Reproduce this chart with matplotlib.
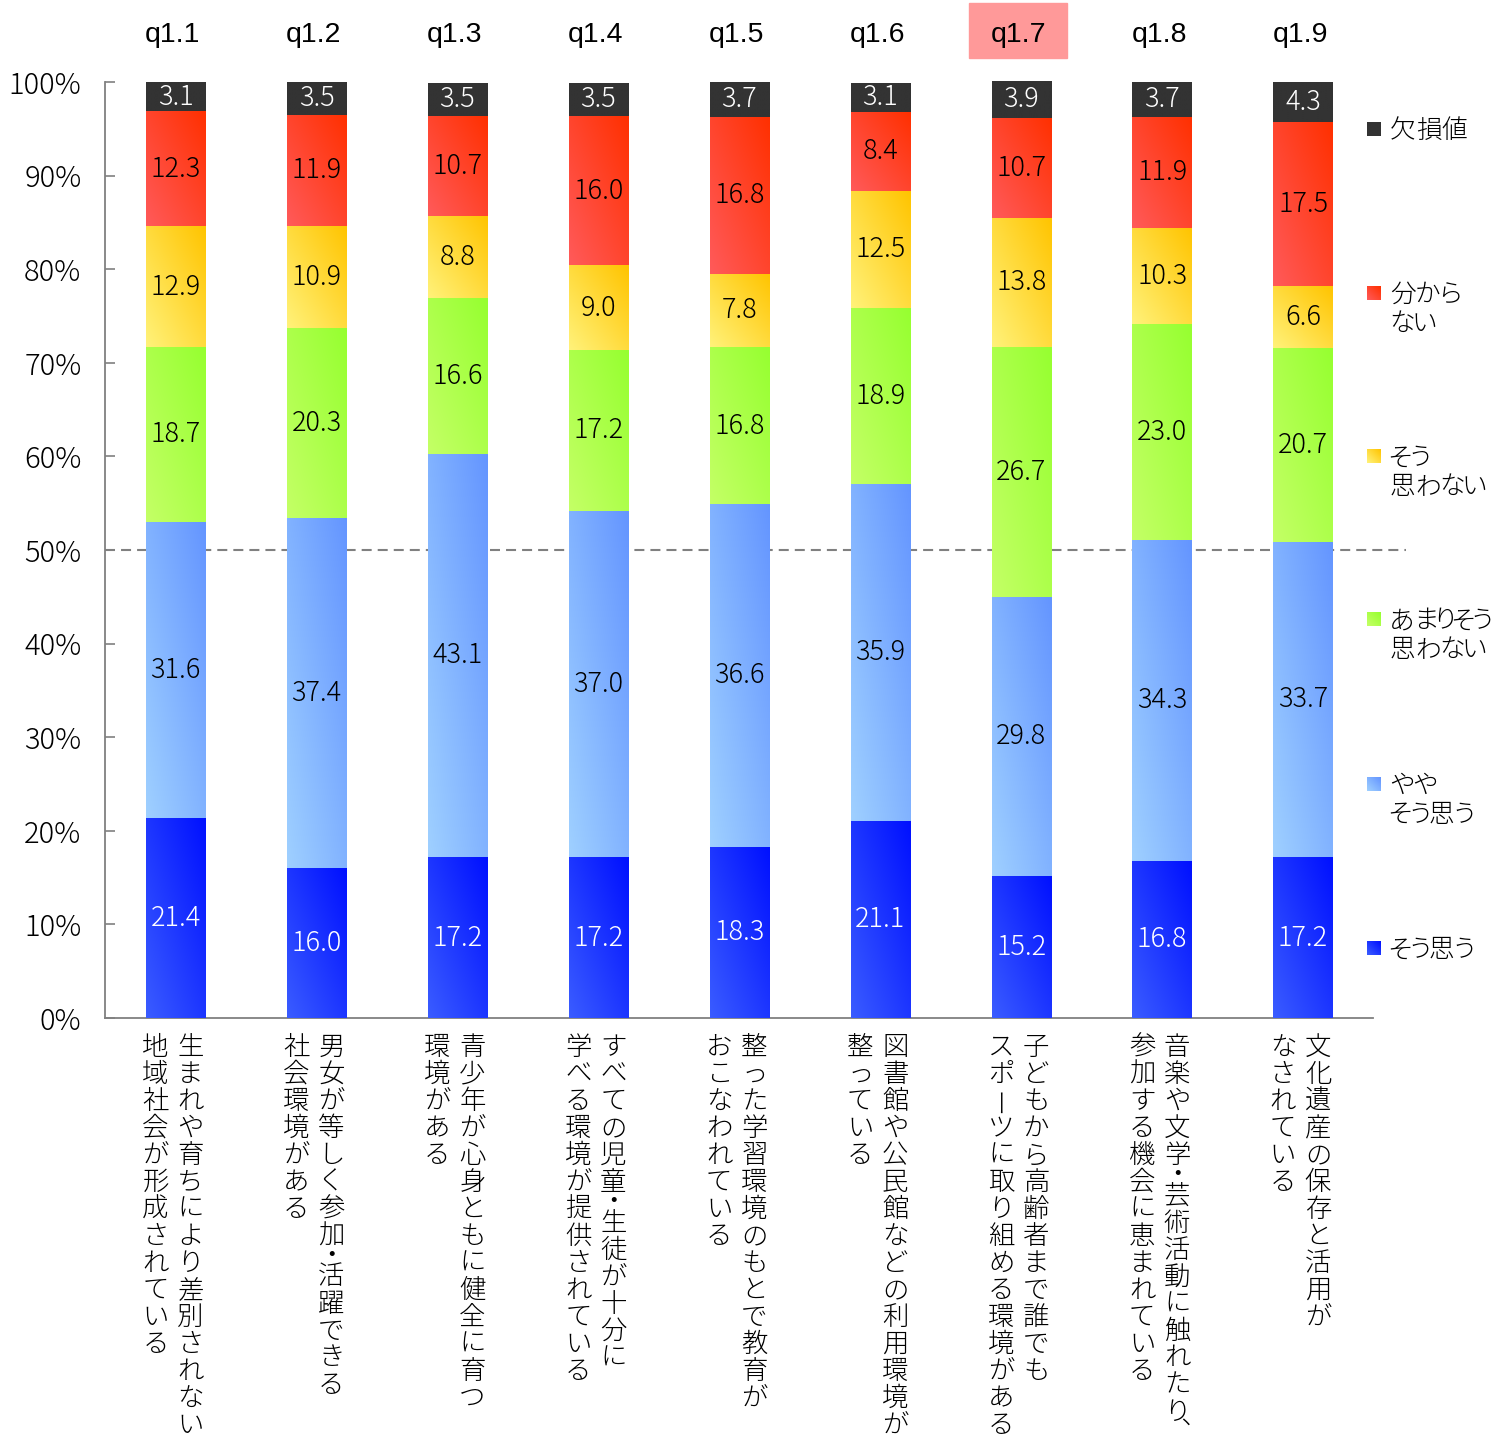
import numpy as np
import matplotlib
matplotlib.use("Agg")
import matplotlib.pyplot as plt
from matplotlib.colors import to_rgb

plt.rcParams["font.family"] = ["Noto Sans CJK JP", "DejaVu Sans"]

# ---- data ---------------------------------------------------------------
codes = ["q1.1", "q1.2", "q1.3", "q1.4", "q1.5", "q1.6", "q1.7", "q1.8", "q1.9"]
highlight_code = "q1.7"

questions = [
    ["生まれや育ちにより差別されない", "地域社会が形成されている"],
    ["男女が等しく参加・活躍できる", "社会環境がある"],
    ["青少年が心身ともに健全に育つ", "環境がある"],
    ["すべての児童・生徒が十分に", "学べる環境が提供されている"],
    ["整った学習環境のもとで教育が", "おこなわれている"],
    ["図書館や公民館などの利用環境が", "整っている"],
    ["子どもから高齢者まで誰でも", "スポーツに取り組める環境がある"],
    ["音楽や文学・芸術活動に触れたり、", "参加する機会に恵まれている"],
    ["文化遺産の保存と活用が", "なされている"],
]

sou_omou      = [21.4, 16.0, 17.2, 17.2, 18.3, 21.1, 15.2, 16.8, 17.2]
yaya_sou      = [31.6, 37.4, 43.1, 37.0, 36.6, 35.9, 29.8, 34.3, 33.7]
amari_sou     = [18.7, 20.3, 16.6, 17.2, 16.8, 18.9, 26.7, 23.0, 20.7]
sou_omowanai  = [12.9, 10.9,  8.8,  9.0,  7.8, 12.5, 13.8, 10.3,  6.6]
wakaranai     = [12.3, 11.9, 10.7, 16.0, 16.8,  8.4, 10.7, 11.9, 17.5]
kesson        = [ 3.1,  3.5,  3.5,  3.5,  3.7,  3.1,  3.9,  3.7,  4.3]

series_values = [sou_omou, yaya_sou, amari_sou, sou_omowanai, wakaranai, kesson]
series_names = ["そう思う", "やや\nそう思う", "あまりそう\n思わない",
                "そう\n思わない", "分から\nない", "欠損値"]
# (light corner, dark corner) of each diagonal gradient
series_colors = [
    ("#3a5cff", "#0010ff"),
    ("#9fd0ff", "#6495ff"),
    ("#c4ff66", "#96ff30"),
    ("#fff27a", "#ffc400"),
    ("#ff5a5a", "#ff3000"),
    ("#333333", "#333333"),
]
label_colors = ["white", "black", "black", "black", "black", "white"]

# ---- figure geometry ----------------------------------------------------
W, H = 1498, 1448
fig = plt.figure(figsize=(W / 100, H / 100), dpi=100)
fig.patch.set_facecolor("white")
ax_l, ax_r, ax_t, ax_b = 105, 1373.5, 82, 1018
ax = fig.add_axes([ax_l / W, 1 - ax_b / H, (ax_r - ax_l) / W, (ax_b - ax_t) / H])

x = np.arange(len(codes))
bar_w = 0.42
LIGHT = "light"


def gradient(c_light, c_dark, n=64):
    u = np.linspace(0, 1, n)
    uu, vv = np.meshgrid(u, u)
    t = (uu + vv) / 2.0
    a, b = np.array(to_rgb(c_light)), np.array(to_rgb(c_dark))
    return a[None, None, :] * (1 - t[..., None]) + b[None, None, :] * t[..., None]


bottoms = np.zeros(len(codes))
for vals, (c1, c2), tc in zip(series_values, series_colors, label_colors):
    vals = np.asarray(vals, dtype=float)
    bars = ax.bar(x, vals, bottom=bottoms, width=bar_w, color="none",
                  edgecolor="none", zorder=3)
    img = gradient(c1, c2)
    for rect, v, b in zip(bars, vals, bottoms):
        x0, y0 = rect.get_x(), rect.get_y()
        im = ax.imshow(img, extent=[x0, x0 + rect.get_width(), y0, y0 + rect.get_height()],
                       origin="lower", aspect="auto", interpolation="bilinear", zorder=3)
        im.set_clip_path(rect)
        ax.text(rect.get_x() + rect.get_width() / 2, b + v / 2, f"{v:.1f}",
                ha="center", va="center", fontsize=19.5, color=tc, zorder=5,
                fontweight=LIGHT)
    bottoms = bottoms + vals

ax.set_xlim(-0.5, len(codes) - 0.5)
ax.set_ylim(0, 100)

# reference line at 50%
ax.plot([-0.5, len(codes) - 0.5 + 32 / 140.9], [50, 50], color="#808080",
        lw=1.5, dashes=(4.8, 2.9), clip_on=False, zorder=1)

ax.set_yticks(np.arange(0, 101, 10))
ax.set_yticklabels([f"{v}%" for v in range(0, 101, 10)], fontsize=21,
                   fontweight=LIGHT)
ax.tick_params(axis="y", direction="in", length=7.5, width=1.2, color="#808080", pad=17)
ax.set_xticks([])
for s in ("top", "right"):
    ax.spines[s].set_visible(False)
for s in ("left", "bottom"):
    ax.spines[s].set_color("#808080")
    ax.spines[s].set_linewidth(1.3)
ax.set_facecolor("none")

# ---- overlay in pixel coordinates for headers, vertical labels, legend ---
ov = fig.add_axes([0, 0, 1, 1], zorder=10)
ov.axis("off")
ov.patch.set_alpha(0)

px_per_cat = (ax_r - ax_l) / len(codes)
centers = [ax_l + (i + 0.5) * px_per_cat for i in range(len(codes))]

for cx, code in zip(centers, codes):
    if code == highlight_code:
        ov.add_patch(plt.Rectangle((cx - 52, 3), 98, 55, color="#ff9999", zorder=1))
    ov.text(cx - 3, 42, code, ha="center", va="baseline", fontsize=20.5,
            family=["Liberation Sans", "DejaVu Sans"], color="black", zorder=2)

# vertical question text, first line on the right
fs_v = 19
em = fs_v * 100 / 72
pitch = 27
for cx, lines in zip(centers, questions):
    for col, line in enumerate(lines):
        colx = cx + (15 if col == 0 else -20)
        y = 1032
        for ch in line:
            step = pitch * (0.5 if ch == "・" else 1.0)
            yc = y + step / 2
            if ch == "ー":
                ov.text(colx, yc, ch, ha="center", va="center", rotation=90,
                        fontsize=fs_v, color="black", fontweight=LIGHT)
            elif ch == "、":
                ov.text(colx, yc + 0.36 * em - 7, "\ufe11", ha="center", va="baseline",
                        fontsize=fs_v, color="black", fontweight=LIGHT)
            else:
                ov.text(colx, yc + 0.36 * em, ch, ha="center", va="baseline",
                        fontsize=fs_v, color="black", fontweight=LIGHT)
            y += step

# legend (top entry is the top segment); kana are set proportionally
leg_y = [948, 784, 619, 456, 293, 129]
fs_l = 18.5
em_l = fs_l * 100 / 72
kana_w = {"あ": 0.95, "ま": 0.88, "り": 0.6, "そ": 0.8, "う": 0.72, "わ": 0.95,
          "な": 0.95, "い": 0.8, "か": 0.95, "ら": 0.8, "や": 0.92}


def set_line(x0, ybase, text):
    xx = x0
    for ch in text:
        w = kana_w.get(ch, 1.0) * em_l
        ov.text(xx + w / 2, ybase, ch, ha="center", va="baseline",
                fontsize=fs_l, color="black", fontweight=LIGHT)
        xx += w


for name, (c1, c2), yc in zip(series_names, series_colors, leg_y):
    ov.imshow(gradient(c1, c2, 16), extent=[1367, 1381, yc + 7, yc - 7],
              origin="lower", aspect="auto", interpolation="bilinear", zorder=2)
    for k, part in enumerate(name.split("\n")):
        set_line(1390, yc + k * 28.5 + 0.36 * em_l, part)

ov.set_xlim(0, W)
ov.set_ylim(H, 0)

fig.savefig("out.png", dpi=100)
